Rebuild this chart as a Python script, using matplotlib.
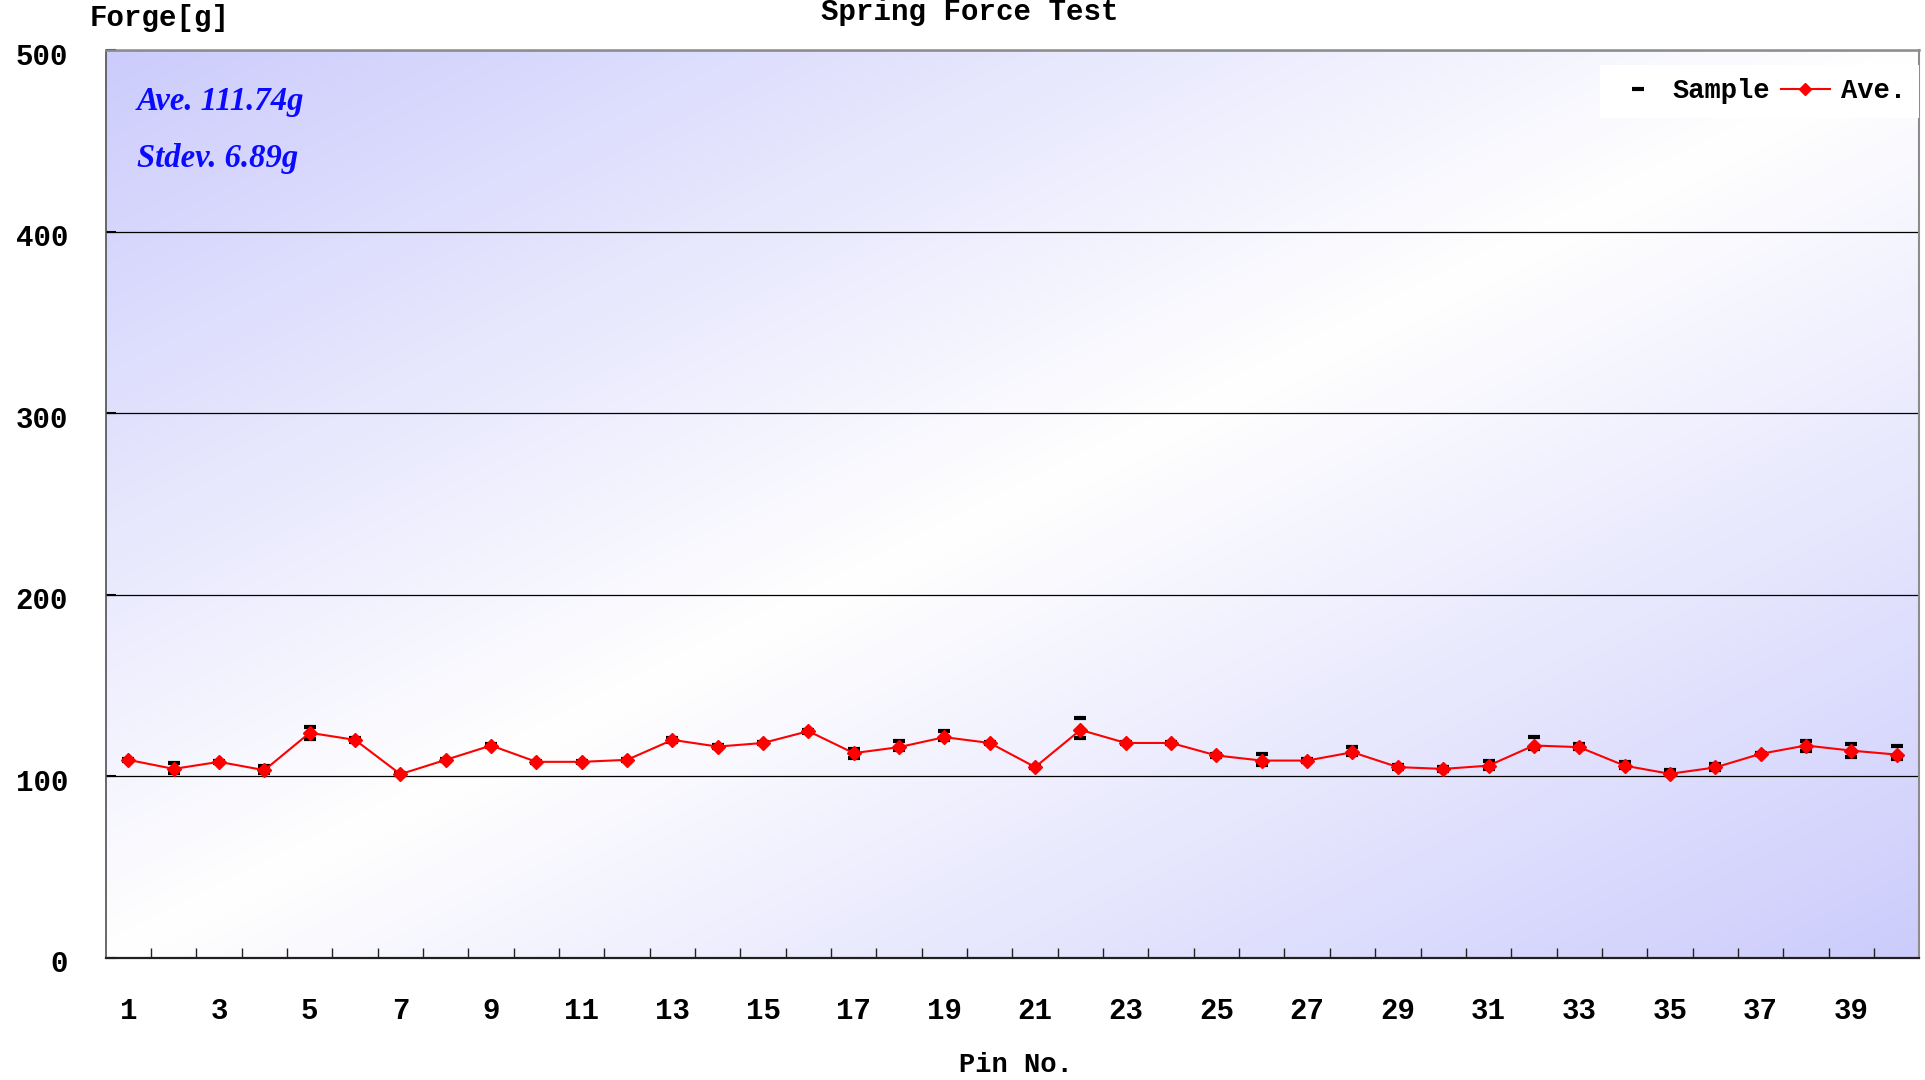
import numpy as np
import matplotlib
matplotlib.use('Agg')
import matplotlib.pyplot as plt
from matplotlib.transforms import ScaledTranslation

# data
pins = list(range(1, 41))
ave = [109.0, 104.0, 107.9, 103.3, 123.9, 120.0, 101.1, 109.0, 116.9, 107.9,
       107.9, 109.0, 120.0, 116.3, 118.3, 124.8, 112.7, 116.0, 121.5, 118.3,
       105.0, 125.5, 118.3, 118.3, 111.4, 108.6, 108.6, 113.2, 105.0, 104.0,
       105.8, 116.9, 116.0, 105.8, 101.3, 104.8, 112.3, 116.9, 114.1, 111.9]
sample_hi = [109.5, 107.3, 108.5, 105.5, 127.0, 121.0, 101.5, 109.5, 117.5, 108.5,
             108.5, 109.5, 121.0, 117.0, 119.0, 125.5, 114.7, 119.4, 125.0, 119.0,
             105.5, 132.0, 119.0, 119.0, 112.3, 112.1, 109.3, 116.0, 106.0, 105.0,
             108.3, 121.5, 117.5, 107.8, 103.5, 106.5, 113.0, 119.6, 117.8, 116.9]
sample_lo = [108.5, 101.8, 107.3, 101.8, 120.5, 119.0, 100.5, 108.5, 116.3, 107.3,
             107.3, 108.5, 119.0, 115.5, 117.5, 124.0, 110.1, 114.5, 120.2, 117.5,
             104.5, 121.1, 117.5, 117.5, 110.5, 106.2, 107.9, 111.4, 104.0, 103.0,
             104.0, 115.0, 115.0, 104.5, 100.5, 103.5, 111.5, 114.1, 110.6, 109.7]
y_ticks = [0, 100, 200, 300, 400, 500]
x_labels = [str(p) for p in pins[::2]]

mono = {'family': 'Liberation Mono', 'weight': 'bold'}

fig = plt.figure(figsize=(19.25, 10.8), dpi=100)
ax = fig.add_axes([0.0549, 0.1133, 0.9421, 0.8401])

# diagonal lavender-white-lavender background
H, W = 300, 600
u = np.linspace(0, 1, W)[None, :]
v = np.linspace(0, 1, H)[:, None]
t = np.abs(u + v - 1.0)
lav = np.array([0.80, 0.80, 0.99])
img = (1 - t)[..., None] * np.ones(3) + t[..., None] * lav
ax.imshow(img, extent=(0, 1, 0, 1), transform=ax.transAxes, aspect='auto',
          origin='upper', zorder=0, interpolation='bilinear')

ax.plot(pins, sample_hi, ls='none', marker='_', color='black', ms=9, mew=3, zorder=3)
ax.plot(pins, sample_lo, ls='none', marker='_', color='black', ms=9, mew=3, zorder=3)
ax.plot(pins, ave, color='red', lw=1.5, marker='D', ms=7, zorder=4)

ax.set_xlim(0.5, 40.5)
ax.set_ylim(0, 500)
ax.set_yticks(y_ticks)
ax.set_xticks(pins[::2])
ax.set_xticklabels(x_labels)
ax.set_xticks([p + 0.5 for p in pins[:-1]], minor=True)
ax.yaxis.grid(True, color='black', lw=0.9)
ax.set_axisbelow(True)

ax.tick_params(axis='x', which='major', length=0, pad=28.5, labelsize=21)
ax.tick_params(axis='x', which='minor', direction='in', length=7.5, width=1, color='#222222')
ax.tick_params(axis='y', direction='in', length=7, width=1.5, pad=27, labelsize=21)
for lab in ax.get_xticklabels() + ax.get_yticklabels():
    lab.set_family('Liberation Mono')
    lab.set_weight('bold')
for tk in ax.yaxis.get_major_ticks():
    tk.label1.set_transform(tk.label1.get_transform() +
                            ScaledTranslation(0, -0.035, fig.dpi_scale_trans))

ax.spines['top'].set_color('#8c8c8c')
ax.spines['top'].set_linewidth(1.8)
ax.spines['right'].set_color('#8c8c8c')
ax.spines['right'].set_linewidth(1.5)
ax.spines['left'].set_color('#505050')
ax.spines['left'].set_linewidth(1.2)
ax.spines['bottom'].set_color('#202020')
ax.spines['bottom'].set_linewidth(1.6)

# legend
sample_h = plt.Line2D([], [], ls='none', marker='_', color='black', ms=9, mew=3)
ave_h = plt.Line2D([], [], color='red', lw=1.5, marker='D', ms=6)
leg = ax.legend([sample_h, ave_h], ['Sample', 'Ave.'], loc='center right',
                bbox_to_anchor=(1.0, 0.955), ncol=2, frameon=True,
                facecolor='white', edgecolor='none', framealpha=1, fancybox=False,
                handlelength=1.8, handletextpad=0.4, columnspacing=0.4,
                borderpad=0.5, borderaxespad=0, prop={**mono, 'size': 19.5})
leg.set_zorder(5)

# texts
fig.text(970 / 1925, 1 - 20 / 1080, 'Spring Force Test', ha='center', va='baseline',
         fontsize=21, **mono)
fig.text(90 / 1925, 1 - 26 / 1080, 'Forge[g]', ha='left', va='baseline',
         fontsize=21, **mono)
fig.text(1016 / 1925, 1 - 1072 / 1080, 'Pin No.', ha='center', va='baseline',
         fontsize=19.5, **mono)
fig.text(137 / 1925, 1 - 110 / 1080, 'Ave. 111.74g', ha='left', va='baseline',
         fontsize=23.5, family='Liberation Serif', weight='bold', style='italic',
         color='#0a0aff')
fig.text(137 / 1925, 1 - 167 / 1080, 'Stdev. 6.89g', ha='left', va='baseline',
         fontsize=23.5, family='Liberation Serif', weight='bold', style='italic',
         color='#0a0aff')

fig.savefig('out.png', dpi=100, facecolor='white')
